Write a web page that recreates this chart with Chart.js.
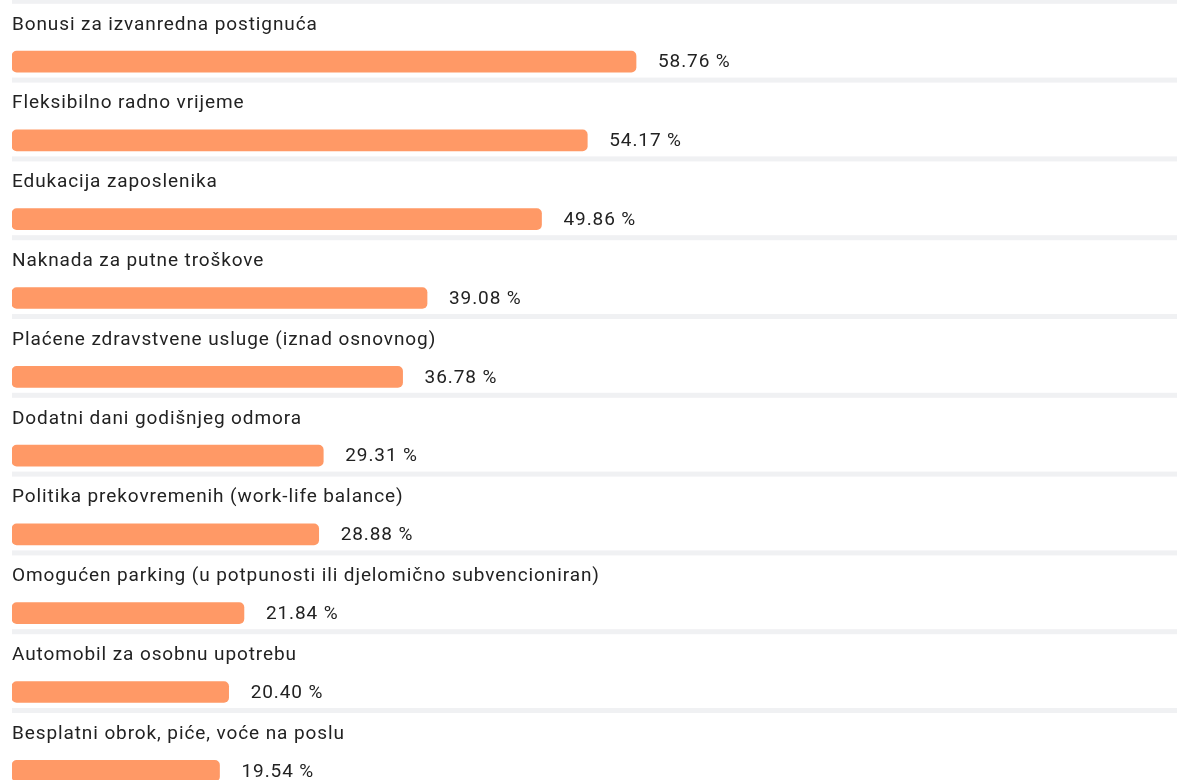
<!DOCTYPE html>
<html>
<head>
<meta charset="utf-8">
<script src="https://cdn.jsdelivr.net/npm/chart.js@4.4.0/dist/chart.umd.min.js"></script>
<style>
  html, body { margin: 0; padding: 0; background: #fff; overflow: hidden; }
  #wrap { width: 1177px; height: 820px; }
</style>
</head>
<body>
<div id="wrap"><canvas id="chart-benefits" width="1177" height="820"></canvas></div>
<script>
'use strict';

/* ── Data ───────────────────────────────────────────────────────────────── */
const labels = [
  'Bonusi za izvanredna postignuća',
  'Fleksibilno radno vrijeme',
  'Edukacija zaposlenika',
  'Naknada za putne troškove',
  'Plaćene zdravstvene usluge (iznad osnovnog)',
  'Dodatni dani godišnjeg odmora',
  'Politika prekovremenih (work-life balance)',
  'Omogućen parking (u potpunosti ili djelomično subvencioniran)',
  'Automobil za osobnu upotrebu',
  'Besplatni obrok, piće, voće na poslu',
];
const values = [58.76, 54.17, 49.86, 39.08, 36.78, 29.31, 28.88, 21.84, 20.40, 19.54];

/* ── Row decorations: separator, category text above bar, value at bar end ── */
const rowDecor = {
  id: 'rowDecor',
  beforeDatasetsDraw(chart) {
    const { ctx } = chart;
    const meta = chart.getDatasetMeta(0);
    ctx.save();
    ctx.fillStyle = '#f0f1f3';
    meta.data.forEach(bar => {
      ctx.fillRect(12, bar.y - 62.8, chart.width - 12, 5);
    });
    ctx.restore();
  },
  afterDatasetsDraw(chart) {
    const { ctx } = chart;
    const meta = chart.getDatasetMeta(0);
    ctx.save();
    ctx.fillStyle = '#222';
    ctx.font = '19px Roboto';
    ctx.letterSpacing = '0.9px';
    meta.data.forEach((bar, i) => {
      ctx.textAlign = 'left';
      ctx.textBaseline = 'alphabetic';
      ctx.fillText(labels[i], 12, bar.y - 32);
      ctx.textBaseline = 'middle';
      ctx.fillText(values[i].toFixed(2) + ' %', bar.x + 22, bar.y + 1);
    });
    ctx.restore();
  },
};

new Chart(document.getElementById('chart-benefits').getContext('2d'), {
  type: 'bar',
  data: {
    labels,
    datasets: [{
      data:            values,
      backgroundColor: '#ff9966',
      borderRadius:    5,
      borderSkipped:   false,
      barThickness:    21,
    }],
  },
  options: {
    indexAxis:  'y',
    responsive: false,
    animation:  false,
    layout: { padding: { left: 12, right: 103, top: 22.2, bottom: 9.8 } },
    scales: {
      x: { display: false, min: 0, max: 100 },
      y: { display: false, offset: true },
    },
    plugins: { legend: { display: false }, tooltip: { enabled: false } },
  },
  plugins: [rowDecor],
});
</script>
</body>
</html>
